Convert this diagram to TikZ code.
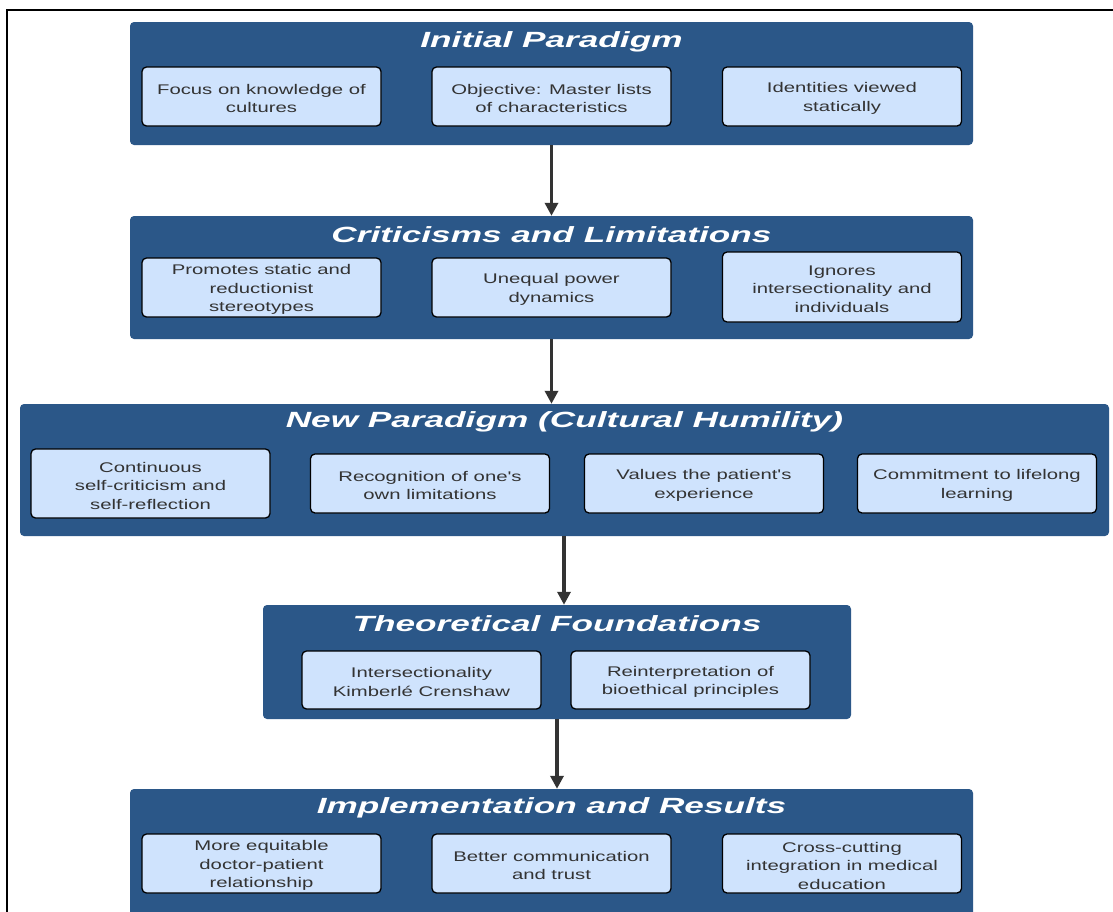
\documentclass[tikz,border=0pt]{standalone}
\usepackage{fontspec}
\usetikzlibrary{arrows.meta,calc}
\newfontfamily\bodyfam{Liberation Sans}[FakeStretch=1.45]
\newfontfamily\titlefam{Liberation Sans}[FakeStretch=1.6]
\definecolor{cont}{RGB}{43,87,136}
\definecolor{itemfill}{RGB}{207,227,253}
\definecolor{textgray}{RGB}{51,51,51}
\definecolor{arrowgray}{RGB}{51,51,51}
\tikzset{
  container/.style={fill=cont, rounded corners=4pt, inner sep=0pt, draw=none},
  itemtext/.style={text=textgray, align=center, inner sep=0pt,
    font=\bodyfam\fontsize{14}{18.5}\selectfont},
  itembox/.style={fill=itemfill, draw=black, line width=1.3pt, rounded corners=4.5pt,
    inner sep=0pt, minimum width=239pt, minimum height=59pt,
    label={[itemtext, yshift=-2pt]center:{#1}}},
  titletext/.style={text=white, inner sep=0pt, font=\titlefam\bfseries\itshape\fontsize{22}{26}\selectfont},
  arr/.style={draw=arrowgray, line width=3.5pt, -{Triangle[length=13pt,width=13pt]}}
}
\begin{document}
\begin{tikzpicture}[x=1pt,y=-1pt]
\clip (0,0) rectangle (1113,911);
\fill[white] (0,0) rectangle (1113,911);
\draw[line width=1.2pt] (7,930) -- (7,10) -- (1130,10);

% containers
\node[container, minimum width=843pt, minimum height=123pt] (C1) at (551.5,83.5) {};
\node[container, minimum width=843pt, minimum height=123pt] (C2) at (551.5,277.5) {};
\node[container, minimum width=1089pt, minimum height=132pt] (C3) at (564.5,470) {};
\node[container, minimum width=588pt, minimum height=114pt] (C4) at (557,662) {};
\node[container, minimum width=843pt, minimum height=136pt] (C5) at (551.5,857) {};

% titles
\node[titletext] (T1) at (551.5,42) {Initial Paradigm};
\node[titletext] (T2) at (551.5,235) {Criticisms and Limitations};
\node[titletext] (T3) at (564.5,422) {New Paradigm (Cultural Humility)};
\node[titletext] (T4) at (557,624) {Theoretical Foundations};
\node[titletext] (T5) at (551.5,808) {Implementation and Results};

% row 1
\node[itembox={Focus on knowledge of\\cultures}] (A1) at (261.5,96.5) {};
\node[itembox={Objective: Master lists\\of characteristics}] (A2) at (551.5,96.5) {};
\node[itembox={Identities viewed\\statically}] (A3) at (842,96.5) {};

% row 2
\node[itembox={Promotes static and\\reductionist\\stereotypes}] (B1) at (261.5,287.5) {};
\node[itembox={Unequal power\\dynamics}] (B2) at (551.5,287.5) {};
\node[itembox={Ignores\\intersectionality and\\individuals}, minimum height=70pt] (B3) at (842,287) {};

% row 3
\node[itembox={Continuous\\self-criticism and\\self-reflection}, minimum height=69pt] (N1) at (150.5,483.5) {};
\node[itembox={Recognition of one's\\own limitations}] (N2) at (430,483.5) {};
\node[itembox={Values the patient's\\experience}] (N3) at (704,483.5) {};
\node[itembox={Commitment to lifelong\\learning}] (N4) at (977,483.5) {};

% row 4
\node[itembox={Intersectionality\\Kimberlé Crenshaw}, minimum height=58pt] (F1) at (421.5,680) {};
\node[itembox={Reinterpretation of\\bioethical principles}, minimum height=58pt] (F2) at (690.5,680) {};

% row 5
\node[itembox={More equitable\\doctor-patient\\relationship}] (R1) at (261.5,863.5) {};
\node[itembox={Better communication\\and trust}] (R2) at (551.5,863.5) {};
\node[itembox={Cross-cutting\\integration in medical\\education}] (R3) at (842,863.5) {};

% arrows
\draw[arr] (C1.south) -- (C2.north);
\draw[arr] (C2.south) -- (C2.south |- C3.north);
\draw[arr] ($(C3.south)+(-0.5,0)$) -- ($(C3.south |- C4.north)+(-0.5,0)$);
\draw[arr] (C4.south) -- (C4.south |- C5.north);
\end{tikzpicture}
\end{document}
